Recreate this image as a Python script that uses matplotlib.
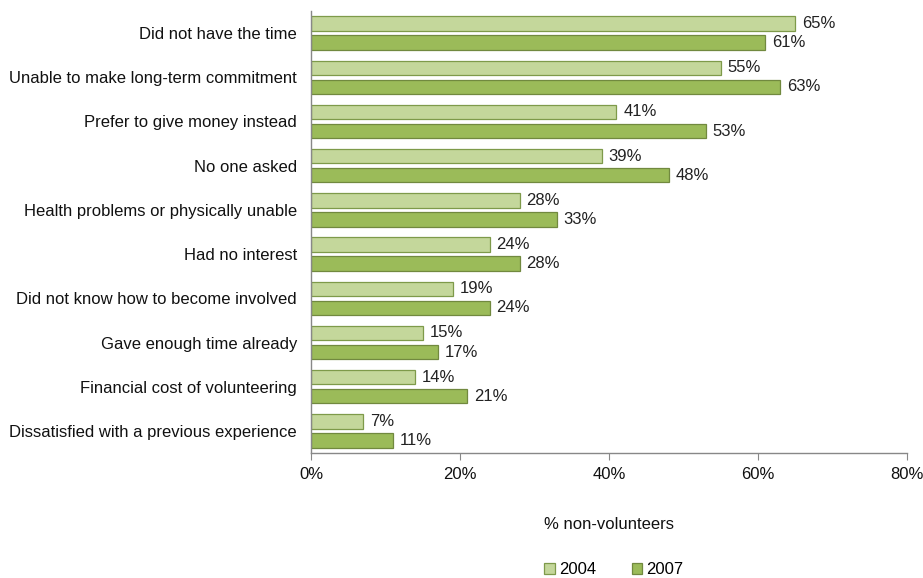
import numpy as np
import matplotlib.pyplot as plt

plt.rcParams['font.family'] = ['Liberation Sans', 'DejaVu Sans']

# ==============================
# DATA
# ==============================
reasons = [
    "Did not have the time",
    "Unable to make long-term commitment",
    "Prefer to give money instead",
    "No one asked",
    "Health problems or physically unable",
    "Had no interest",
    "Did not know how to become involved",
    "Gave enough time already",
    "Financial cost of volunteering",
    "Dissatisfied with a previous experience",
]
pct_2004 = [65, 55, 41, 39, 28, 24, 19, 15, 14, 7]
pct_2007 = [61, 63, 53, 48, 33, 28, 24, 17, 21, 11]
x_ticks = [0, 20, 40, 60, 80]

# ==============================
# PLOT
# ==============================
fig = plt.figure(figsize=(9.23, 5.78), dpi=100)
ax = fig.add_axes([311 / 923, 1 - 453 / 578, 596 / 923, 442 / 578])

y = np.arange(len(reasons))
h = 0.33
off = 0.215
b1 = ax.barh(y - off, pct_2004, height=h, color="#C4D79B", edgecolor="#7E9A4A",
             linewidth=0.9, label="2004")
b2 = ax.barh(y + off, pct_2007, height=h, color="#9BBB59", edgecolor="#71893F",
             linewidth=0.9, label="2007")

for bars, vals in ((b1, pct_2004), (b2, pct_2007)):
    for bar, v in zip(bars, vals):
        ax.text(bar.get_width() + 0.9, bar.get_y() + bar.get_height() / 2,
                f"{v}%", va="center", ha="left", fontsize=12, color="#222222")

ax.set_ylim(len(reasons) - 0.5, -0.5)
ax.set_xlim(0, 80)
ax.set_yticks(y)
ax.set_yticklabels(reasons, fontsize=12, color="#111111")
ax.tick_params(axis="y", length=0, pad=10)
ax.set_xticks(x_ticks)
ax.set_xticklabels([f"{t}%" for t in x_ticks], fontsize=12, color="#111111")
ax.tick_params(axis="x", length=5, color="#888888", pad=5)

for s in ["top", "right"]:
    ax.spines[s].set_visible(False)
for s in ["left", "bottom"]:
    ax.spines[s].set_color("#888888")
    ax.spines[s].set_linewidth(1.0)

ax.set_xlabel("% non-volunteers", fontsize=12, labelpad=25, color="#111111")

fig.legend(handles=[b1, b2], loc="center", bbox_to_anchor=(614 / 923, 1 - 570 / 578),
           ncol=2, frameon=False, fontsize=12, handlelength=0.65, handleheight=0.65,
           columnspacing=2.1, handletextpad=0.25)

plt.savefig("out.png", dpi=100)
